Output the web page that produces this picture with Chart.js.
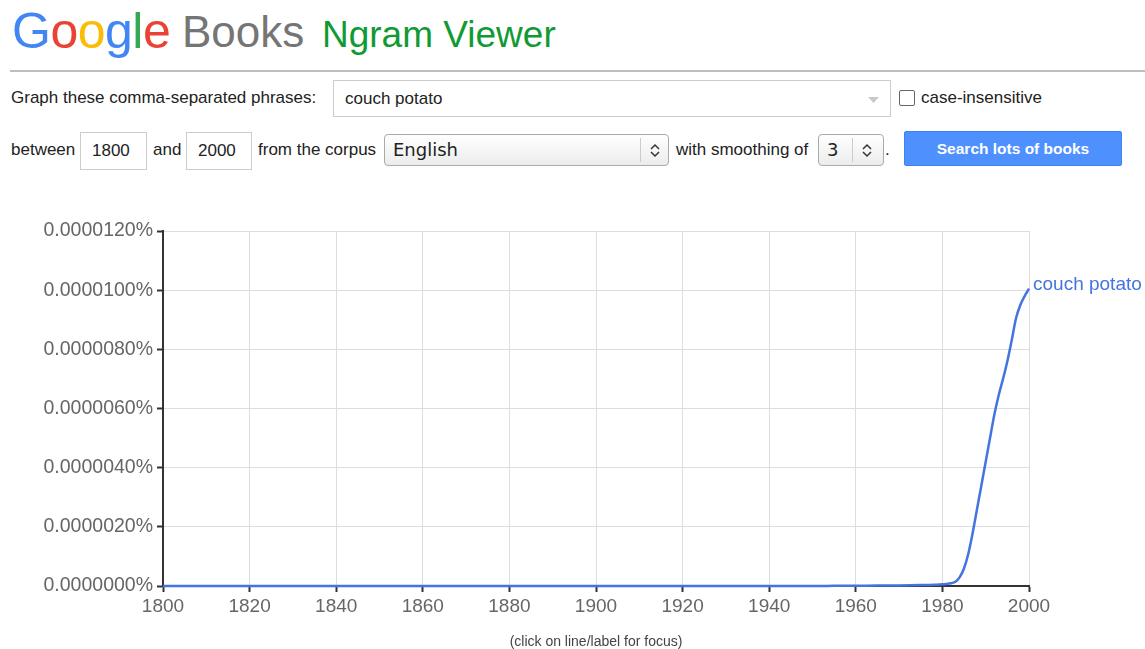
<!DOCTYPE html>
<html>
<head>
<meta charset="utf-8">
<script src="https://cdn.jsdelivr.net/npm/chart.js@4.4.1/dist/chart.umd.min.js"></script>
<style>
  body { margin: 0; background: #fff; font-family: "Liberation Sans", Arial, sans-serif; color: #222; }
  #page { position: relative; width: 1145px; height: 649px; overflow: hidden; }
  .abs { position: absolute; white-space: nowrap; }
  .logo { top: 2px; font-size: 50px; letter-spacing: -0.5px; }
  .books { left: 182px; top: 7px; font-size: 44px; color: #757575; }
  .ngram { left: 322px; top: 14px; font-size: 37px; color: #119a33; }
  .rule { left: 10px; top: 70px; width: 1135px; height: 0; border-top: 2px solid #bdbdbd; }
  .lbl { font-size: 17px; line-height: 20px; color: #222; }
  .box { border: 1px solid #ccc; background: #fff; box-sizing: border-box; }
  .sel { border: 1px solid #aaa; border-radius: 4px; box-sizing: border-box;
         background: linear-gradient(#fff, #ececec); font-family: "DejaVu Sans", sans-serif; font-size: 18px; color: #222; }
  .sep { position: absolute; top: 3px; bottom: 3px; width: 1px; background: #ccc; }
  .btn { left: 904px; top: 131px; width: 218px; height: 35px; background: #4d90fe; border: 1px solid #3f82ef;
         border-radius: 2px; box-sizing: border-box; color: #fff; font-weight: bold; font-size: 15.5px;
         text-align: center; line-height: 34px; }
  #chartWrap { position: absolute; left: 0; top: 200px; width: 1145px; height: 449px; }
  .note { left: 0; width: 1192px; top: 633px; text-align: center; font-size: 14px; color: #444; }
</style>
</head>
<body>
<div id="page">
  <div class="abs logo" style="left:12px">
    <span style="color:#4285f4">G</span><span style="color:#ea4335">o</span><span style="color:#fbbc05">o</span><span style="color:#4285f4">g</span><span style="color:#34a853">l</span><span style="color:#ea4335">e</span>
  </div>
  <div class="abs books">Books</div>
  <div class="abs ngram">Ngram Viewer</div>
  <div class="abs rule"></div>

  <!-- ligne 1 -->
  <div class="abs lbl" style="left:11px; top:88px">Graph these comma-separated phrases:</div>
  <div class="abs box" style="left:333px; top:80px; width:558px; height:37px"></div>
  <div class="abs lbl" style="left:345px; top:89px">couch potato</div>
  <svg class="abs" style="left:868px; top:97px" width="11" height="6"><polygon points="0,0 11,0 5.5,6" fill="#c8c8c8"/></svg>
  <div class="abs" style="left:899px; top:90px; width:16px; height:16px; border:1px solid #666; border-radius:2px; box-sizing:border-box"></div>
  <div class="abs lbl" style="left:921px; top:88px">case-insensitive</div>

  <!-- ligne 2 -->
  <div class="abs lbl" style="left:11px; top:140px">between</div>
  <div class="abs box" style="left:80px; top:132px; width:67px; height:38px"></div>
  <div class="abs lbl" style="left:92px; top:141px">1800</div>
  <div class="abs lbl" style="left:153px; top:140px">and</div>
  <div class="abs box" style="left:186px; top:132px; width:66px; height:38px"></div>
  <div class="abs lbl" style="left:198px; top:141px">2000</div>
  <div class="abs lbl" style="left:258px; top:140px">from the corpus</div>
  <div class="abs sel" style="left:384px; top:134px; width:285px; height:32px">
    <span style="position:absolute; left:8px; top:4px">English</span>
    <div class="sep" style="left:255px"></div>
    <svg style="position:absolute; left:265px; top:8px" width="10" height="15"><polyline points="1,6 5,2 9,6" fill="none" stroke="#333" stroke-width="1.5"/><polyline points="1,9 5,13 9,9" fill="none" stroke="#333" stroke-width="1.5"/></svg>
  </div>
  <div class="abs lbl" style="left:676px; top:140px">with smoothing of</div>
  <div class="abs sel" style="left:818px; top:134px; width:66px; height:32px">
    <span style="position:absolute; left:8px; top:4px">3</span>
    <div class="sep" style="left:33px"></div>
    <svg style="position:absolute; left:43px; top:8px" width="10" height="15"><polyline points="1,6 5,2 9,6" fill="none" stroke="#333" stroke-width="1.5"/><polyline points="1,9 5,13 9,9" fill="none" stroke="#333" stroke-width="1.5"/></svg>
  </div>
  <div class="abs lbl" style="left:885px; top:140px">.</div>
  <div class="abs btn">Search lots of books</div>

  <div id="chartWrap"><canvas id="ngramChart" width="1145" height="449"></canvas></div>
  <div class="abs note">(click on line/label for focus)</div>
</div>

<script>
// données (fréquence en %)
const phrase = 'couch potato';
const years = [1800, 1820, 1840, 1860, 1880, 1900, 1920, 1940, 1950, 1955, 1960, 1965, 1970, 1975, 1978,
               1980, 1981, 1982, 1983, 1984, 1985, 1986, 1987, 1988, 1989, 1990,
               1991, 1992, 1993, 1994, 1995, 1996, 1997, 1998, 1999, 2000];
const values = [0, 0, 0, 0, 0, 0, 0, 0, 0, 0.005e-6, 0.01e-6, 0.015e-6, 0.02e-6, 0.03e-6, 0.04e-6,
                0.06e-6, 0.07e-6, 0.09e-6, 0.14e-6, 0.3e-6, 0.6e-6, 1.1e-6, 1.8e-6, 2.6e-6, 3.4e-6, 4.2e-6,
                5.0e-6, 5.8e-6, 6.45e-6, 7.0e-6, 7.6e-6, 8.3e-6, 9.05e-6, 9.5e-6, 9.8e-6, 10.05e-6];
const yMax = 0.000012;
const yStep = 0.000002;
const xStep = 20;

const lineColor = '#4374e0';

// étiquette du mot à la fin de la courbe
const endLabel = {
    id: 'endLabel',
    afterDatasetsDraw(chart) {
        const meta = chart.getDatasetMeta(0);
        const last = meta.data[meta.data.length - 1];
        const ctx = chart.ctx;
        ctx.save();
        ctx.font = '19px "Liberation Sans", Arial, sans-serif';
        ctx.fillStyle = lineColor;
        ctx.textBaseline = 'middle';
        ctx.fillText(phrase, last.x + 4, last.y - 4);
        ctx.restore();
    }
};

const tickFont = { family: '"Liberation Sans", Arial, sans-serif', size: 19 };

new Chart(document.getElementById('ngramChart').getContext('2d'), {
    type: 'line',
    data: {
        datasets: [{
            label: phrase,
            data: years.map((y, i) => ({ x: y, y: values[i] })),
            borderColor: lineColor,
            borderWidth: 2.5,
            pointRadius: 0,
            cubicInterpolationMode: 'monotone',
            fill: false,
            clip: false
        }]
    },
    options: {
        responsive: false,
        animation: false,
        layout: { padding: { top: 31, right: 116, left: 0, bottom: 0 } },
        plugins: {
            legend: { display: false },
            tooltip: { enabled: false }
        },
        scales: {
            x: {
                type: 'linear',
                min: 1800,
                max: 2000,
                ticks: {
                    stepSize: xStep,
                    color: '#666',
                    font: tickFont,
                    padding: 3,
                    maxRotation: 0,
                    callback: v => String(v)
                },
                grid: { color: '#dddddd', tickColor: '#333', tickLength: 6, tickWidth: 2, lineWidth: 1 },
                border: { color: '#333', width: 2 },
                afterFit: s => { s.height = 63; }
            },
            y: {
                min: 0,
                max: yMax,
                ticks: {
                    stepSize: yStep,
                    color: '#666',
                    font: { family: tickFont.family, size: 19.5 },
                    padding: 4,
                    callback: v => Number(v).toFixed(7) + '%'
                },
                grid: { color: '#dddddd', tickColor: '#333', tickLength: 6, tickWidth: 2, lineWidth: 1 },
                border: { color: '#333', width: 2 },
                afterFit: s => { s.width = 163; }
            }
        }
    },
    plugins: [endLabel]
});
</script>
</body>
</html>
